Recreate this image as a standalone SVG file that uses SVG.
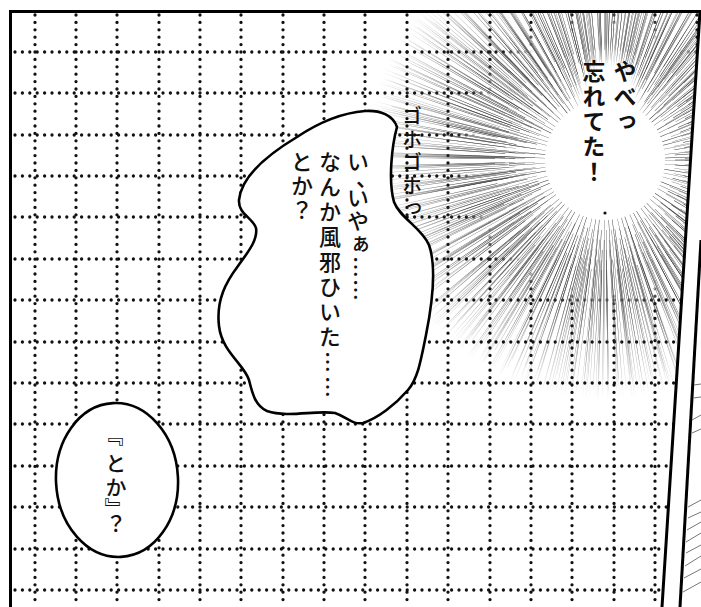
<svg xmlns="http://www.w3.org/2000/svg" width="701" height="607" viewBox="0 0 701 607">
<defs>
<style>
.grid line{stroke:#111;stroke-width:3.3;stroke-linecap:round;stroke-dasharray:0 7.4;fill:none}
.frame{stroke:#000;stroke-width:3;fill:none}
.bubble{fill:#fff;stroke:#000;stroke-width:2.6;stroke-linejoin:round}
.jp{font-family:"Noto Sans CJK JP","Noto Sans CJK SC",sans-serif;writing-mode:vertical-rl;fill:#111}
.jh{font-family:"Noto Sans CJK JP","Noto Sans CJK SC",sans-serif;fill:#111}
.speed{fill:none;stroke:#333}
.hatch line{stroke:#666;stroke-width:0.9}
</style>
<clipPath id="panel"><polygon points="10,11 700,11 662,607 10,607"/></clipPath>
<radialGradient id="hide" gradientUnits="userSpaceOnUse" cx="605" cy="160" r="150"><stop offset="0" stop-color="#fff"/><stop offset="0.86" stop-color="#fff"/><stop offset="1" stop-color="#fff" stop-opacity="0"/></radialGradient>
<radialGradient id="fade" gradientUnits="userSpaceOnUse" cx="605" cy="160" r="240"><stop offset="0" stop-color="#fff"/><stop offset="0.6" stop-color="#fff"/><stop offset="1" stop-color="#000"/></radialGradient>
<mask id="burstMask" maskUnits="userSpaceOnUse" x="0" y="0" width="701" height="607"><rect width="701" height="607" fill="url(#fade)"/></mask>
<radialGradient id="halo" cx="0.5" cy="0.5" r="0.5"><stop offset="0" stop-color="#fff"/><stop offset="0.7" stop-color="#fff"/><stop offset="1" stop-color="#fff" stop-opacity="0"/></radialGradient>
</defs>
<rect width="701" height="607" fill="#fff"/>
<g clip-path="url(#panel)">
<g id="grid" class="grid">
<line x1="35" y1="15" x2="35" y2="607"/><line x1="76" y1="15" x2="76" y2="607"/><line x1="117" y1="15" x2="117" y2="607"/><line x1="159" y1="15" x2="159" y2="607"/><line x1="200" y1="15" x2="200" y2="607"/><line x1="241" y1="15" x2="241" y2="607"/><line x1="283" y1="15" x2="283" y2="607"/><line x1="324" y1="15" x2="324" y2="607"/><line x1="365" y1="15" x2="365" y2="607"/><line x1="407" y1="15" x2="407" y2="607"/><line x1="448" y1="15" x2="448" y2="607"/><line x1="490" y1="15" x2="490" y2="607"/><line x1="531" y1="15" x2="531" y2="607"/><line x1="572" y1="15" x2="572" y2="607"/><line x1="614" y1="15" x2="614" y2="607"/><line x1="655" y1="15" x2="655" y2="607"/><line x1="697" y1="15" x2="697" y2="607"/>
<line x1="15" y1="52" x2="700" y2="52"/><line x1="15" y1="93" x2="700" y2="93"/><line x1="15" y1="135" x2="700" y2="135"/><line x1="15" y1="176" x2="700" y2="176"/><line x1="15" y1="217" x2="700" y2="217"/><line x1="15" y1="259" x2="700" y2="259"/><line x1="15" y1="300" x2="700" y2="300"/><line x1="15" y1="342" x2="700" y2="342"/><line x1="15" y1="383" x2="700" y2="383"/><line x1="15" y1="424" x2="700" y2="424"/><line x1="15" y1="466" x2="700" y2="466"/><line x1="15" y1="507" x2="700" y2="507"/><line x1="15" y1="549" x2="700" y2="549"/><line x1="15" y1="590" x2="700" y2="590"/>
</g>
<circle cx="605" cy="160" r="150" fill="url(#hide)"/>
<g id="burst" mask="url(#burstMask)">
<circle class="speed" cx="605" cy="160" r="140" stroke-width="160" stroke-dasharray="0.4 9 0.3 12 0.45 8"/>
<circle class="speed" cx="605" cy="160" r="150" stroke-width="160" stroke-dasharray="0.35 10 0.45 7 0.3 11"/>
<circle class="speed" cx="605" cy="160" r="158" stroke-width="156" stroke-dasharray="0.45 8.5 0.35 12 0.4 9.5"/>
<circle class="speed" cx="605" cy="160" r="168" stroke-width="156" stroke-dasharray="0.3 7 0.5 10 0.35 8"/>
<circle class="speed" cx="605" cy="160" r="178" stroke-width="156" stroke-dasharray="0.4 9 0.35 6.5 0.45 11"/>
<circle class="speed" cx="605" cy="160" r="188" stroke-width="156" stroke-dasharray="0.35 8 0.4 10 0.3 7.5"/>
</g>
<ellipse cx="609" cy="122" rx="40" ry="80" fill="url(#halo)"/>
<circle cx="605" cy="213" r="1.6" fill="#111"/>
</g>
<g id="bubble-main">
<path class="bubble" d="M 297,137 C 315,125 340,113 365,111 C 380,110 393,115 397,127 C 392,145 388,180 394,202 C 400,218 422,228 429,245 C 436,265 433,300 426,335 C 421,360 418,378 408,390 C 395,405 378,418 363,423 C 352,425 347,417 335,413 C 315,410 288,418 267,411 C 255,406 252,392 249,380 C 244,364 222,352 219,326 C 216,300 226,282 238,266 C 248,252 258,240 256,228 C 253,218 238,214 239,200 C 241,180 262,158 297,137 Z"/>
<text class="jp" x="358" y="151" font-size="22" font-weight="500">い</text>
<text class="jh" x="356" y="186" font-size="22" font-weight="500">、</text>
<text class="jp" x="358" y="187" font-size="22" font-weight="500" letter-spacing="1">いやぁ……</text>
<text class="jp" x="330" y="151" font-size="22" font-weight="500" letter-spacing="3">なんか風邪ひいた……</text>
<text class="jp" x="302" y="151" font-size="22" font-weight="500" letter-spacing="2">とか？</text>
</g>
<g id="sfx-cough">
<text class="jp" x="412" y="106" font-size="20" font-weight="500" letter-spacing="3">ゴホゴホっ</text>
</g>
<g id="sfx-shout">
<text class="jp" x="625" y="60" font-size="23" font-weight="700" letter-spacing="2">やべっ</text>
<text class="jp" x="594" y="60" font-size="23" font-weight="700" letter-spacing="2">忘れてた！</text>
</g>
<g id="bubble-oval">
<ellipse class="bubble" cx="117" cy="480" rx="61" ry="77" transform="rotate(-3 117 480)"/>
<text class="jh" x="114" y="436" font-size="21" font-weight="500" text-anchor="middle" dominant-baseline="central" transform="rotate(90 114 436)">『</text>
<text class="jp" x="116" y="453" font-size="21" font-weight="500" letter-spacing="3">とか</text>
<text class="jh" x="117" y="508" font-size="21" font-weight="500" text-anchor="middle" dominant-baseline="central" transform="rotate(90 117 508)">』</text>
<text class="jp" x="116" y="513" font-size="21" font-weight="500">？</text>
</g>
<g id="frame">
<polyline class="frame" points="10.5,607 10.5,11.5 700,11.5 662,607"/>
<line class="frame" x1="701" y1="240" x2="680" y2="607"/>
</g>
<g class="hatch">
<line x1="692" y1="420" x2="701" y2="415"/><line x1="692" y1="433" x2="701" y2="429"/>
<line x1="688" y1="507" x2="701" y2="500"/><line x1="688" y1="518" x2="701" y2="512"/>
<line x1="687" y1="530" x2="701" y2="522"/><line x1="686" y1="542" x2="701" y2="533"/>
<line x1="686" y1="553" x2="701" y2="545"/><line x1="685" y1="566" x2="701" y2="556"/>
<line x1="684" y1="578" x2="701" y2="569"/><line x1="683" y1="592" x2="701" y2="582"/>
<line x1="694" y1="385" x2="701" y2="384"/><line x1="693" y1="398" x2="701" y2="397"/>
</g>
</svg>
